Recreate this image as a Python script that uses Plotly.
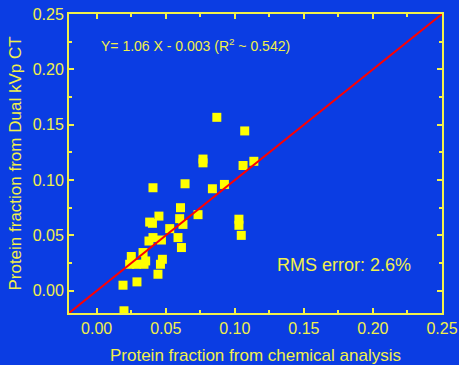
import plotly.graph_objects as go

chem_x = [0.0607, 0.0451, 0.0384, 0.0404, 0.0601, 0.0625, 0.0529, 0.0589, 0.0408, 0.0379,
          0.0469, 0.0614, 0.0336, 0.0251, 0.0355, 0.0343, 0.0239, 0.0288, 0.0476, 0.0462,
          0.0444, 0.0191, 0.0292, 0.0198,
          0.0870, 0.1072, 0.1138, 0.1060, 0.0770, 0.0770, 0.0925, 0.0838, 0.0640, 0.0408,
          0.0734, 0.1030, 0.1030, 0.1047]
ct_y = [0.0751, 0.0675, 0.0621, 0.0610, 0.0652, 0.0600, 0.0562, 0.0481, 0.0481, 0.0450,
        0.0459, 0.0391, 0.0346, 0.0310, 0.0270, 0.0240, 0.0240, 0.0240, 0.0285, 0.0240,
        0.0150, 0.0051, 0.0081, -0.0180,
        0.1567, 0.1444, 0.1170, 0.1132, 0.1190, 0.1156, 0.0961, 0.0922, 0.0967, 0.0931,
        0.0688, 0.0647, 0.0592, 0.0501]
line_xy = [-0.02, 0.25]
tick_vals = [0.00, 0.05, 0.10, 0.15, 0.20, 0.25]
tick_text = ["0.00", "0.05", "0.10", "0.15", "0.20", "0.25"]

BG = "#0b3de3"
YEL = "#f2f04a"
FONT = "Arial, Liberation Sans, sans-serif"

fig = go.Figure()
fig.add_trace(go.Scatter(x=chem_x, y=ct_y, mode="markers",
                         marker=dict(symbol="square", size=9, color="#ffff00",
                                     line=dict(width=0))))
fig.add_trace(go.Scatter(x=line_xy, y=line_xy, mode="lines",
                         line=dict(color="#ff0000", width=2)))

axis_common = dict(
    showgrid=False, zeroline=False, showline=True, linecolor=YEL, linewidth=2,
    mirror="allticks", ticks="inside", ticklen=5, tickwidth=2, tickcolor=YEL,
    tickvals=tick_vals, ticktext=tick_text, automargin=False,
    tickfont=dict(family=FONT, size=16, color=YEL),
    minor=dict(ticks="inside", ticklen=3, tickwidth=1.5, tickcolor=YEL, dtick=0.025, tick0=0),
)
fig.update_layout(
    width=459, height=365,
    paper_bgcolor=BG, plot_bgcolor=BG,
    margin=dict(l=69, r=17, t=14, b=52),
    showlegend=False,
    xaxis=dict(range=[-0.02, 0.25], **axis_common,
               title=dict(text="Protein fraction from chemical analysis",
                          font=dict(family=FONT, size=17, color=YEL), standoff=13)),
    yaxis=dict(range=[-0.02, 0.25], **axis_common,
               title=dict(text="Protein fraction from Dual kVp CT",
                          font=dict(family=FONT, size=17, color=YEL), standoff=7)),
    annotations=[
        dict(text="Y= 1.06 X - 0.003 (R<sup>2</sup> ~ 0.542)", xref="paper", yref="paper",
             x=0.080, y=0.896, xanchor="left", yanchor="middle", showarrow=False,
             font=dict(family=FONT, size=14, color=YEL)),
        dict(text="RMS error: 2.6%", xref="paper", yref="paper",
             x=0.737, y=0.161, xanchor="center", yanchor="middle", showarrow=False,
             font=dict(family=FONT, size=18, color=YEL)),
    ],
)
fig.write_html("out.html")
